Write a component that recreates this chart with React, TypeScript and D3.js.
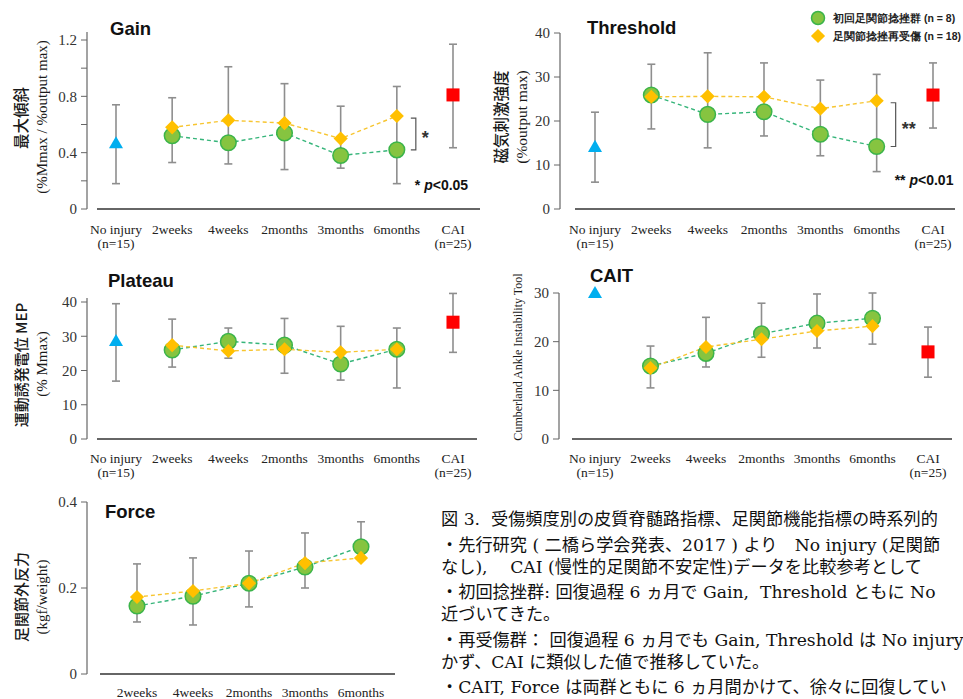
import React from "react";
import * as d3 from "d3";

// categories
const allCats = ["No injury", "2weeks", "4weeks", "2months", "3months", "6months", "CAI"];
const allSubs = ["(n=15)", "", "", "", "", "", "(n=25)"];
const timeCats = ["2weeks", "4weeks", "2months", "3months", "6months"];
const groupNames = ["初回足関節捻挫群 (n = 8)", "足関節捻挫再受傷 (n = 18)"];

// Gain  (mean, lo, hi for reference groups)
const gainFirst = [0.52, 0.47, 0.54, 0.38, 0.42];
const gainRecur = [0.58, 0.63, 0.61, 0.5, 0.66];
const gainHi = [0.79, 1.01, 0.89, 0.73, 0.87];
const gainLo = [0.33, 0.32, 0.28, 0.29, 0.18];
const gainNoInj = [0.46, 0.18, 0.74];
const gainCai = [0.81, 0.435, 1.17];

// Threshold
const thrFirst = [25.9, 21.5, 22.1, 17.0, 14.2];
const thrRecur = [25.5, 25.6, 25.5, 22.8, 24.6];
const thrHi = [32.9, 35.5, 33.2, 29.3, 30.6];
const thrLo = [18.2, 13.9, 16.6, 12.1, 8.5];
const thrNoInj = [13.9, 6.1, 22.0];
const thrCai = [25.9, 18.4, 33.2];

// Plateau
const platFirst = [26.0, 28.5, 27.4, 21.9, 26.2];
const platRecur = [27.4, 25.7, 26.2, 25.3, 26.2];
const platHi = [35.0, 32.4, 35.2, 32.9, 32.4];
const platLo = [21.0, 23.6, 19.2, 17.2, 14.9];
const platNoInj = [28.3, 16.9, 39.5];
const platCai = [34.1, 25.3, 42.5];

// CAIT
const caitFirst = [15.0, 17.6, 21.6, 23.8, 24.8];
const caitRecur = [14.6, 18.9, 20.5, 22.2, 23.2];
const caitHi = [19.1, 25.0, 27.9, 29.8, 30.0];
const caitLo = [10.5, 14.8, 16.8, 18.7, 19.5];
const caitNoInj = [29.8];
const caitCai = [17.9, 12.7, 23.0];

// Force
const forceFirst = [0.158, 0.181, 0.211, 0.249, 0.296];
const forceRecur = [0.179, 0.193, 0.211, 0.258, 0.27];
const forceHi = [0.256, 0.27, 0.286, 0.328, 0.354];
const forceLo = [0.121, 0.114, 0.156, 0.2, 0.27];

// caption, as far as it shows before the right edge
const captionLines = [
  "図 3.  受傷頻度別の皮質脊髄路指標、足関節機能指標の時系列的",
  "・先行研究 ( 二橋ら学会発表、2017 ) より　No injury (足関節",
  "なし),　 CAI (慢性的足関節不安定性)データを比較参考として",
  "・初回捻挫群: 回復過程 6 ヵ月で Gain,  Threshold ともに No",
  "近づいてきた。",
  "・再受傷群： 回復過程 6 ヵ月でも Gain, Threshold は No injury",
  "かず、CAI に類似した値で推移していた。",
  "・CAIT, Force は両群ともに 6 ヵ月間かけて、徐々に回復してい",
];

const GREEN_FILL = "#86c440";
const GREEN_STROKE = "#3bb44a";
const GREEN_LINE = "#36b57a";
const YELLOW = "#ffc000";
const YELLOW_LINE = "#f7c530";
const BLUE = "#00aeef";
const RED = "#ff0000";
const ERR = "#8e8e8e";
const SERIF = "'Liberation Serif', 'Times New Roman', serif";
const SANS = "'Liberation Sans', Arial, sans-serif";
const CJK = "'Noto Sans CJK JP', sans-serif";

const diamondPath = d3.symbol(d3.symbolSquare, 100)()!;
const trianglePath = d3.symbol(d3.symbolTriangle, 85)()!;
const squarePath = d3.symbol(d3.symbolSquare, 170)()!;

const ErrBar = ({ x, y1, y2 }) => (
  <g stroke={ERR} strokeWidth={1.6}>
    <line x1={x} x2={x} y1={y1} y2={y2} />
    <line x1={x - 4} x2={x + 4} y1={y1} y2={y1} />
    <line x1={x - 4} x2={x + 4} y1={y2} y2={y2} />
  </g>
);

const Panel = ({ p }) => {
  const y = d3.scaleLinear().domain(p.domain).range([p.yBottom, p.yTop]);
  const x = d3.scalePoint<string>().domain(p.cats).range([p.catX1, p.catX2]);
  const line = d3
    .line<number>()
    .x((_, i) => x(timeCats[i])!)
    .y((d) => y(d));
  const x6 = x("6months")!;

  return (
    <g>
      {/* y axis */}
      <line x1={p.axisX} x2={p.axisX} y1={p.yBottom} y2={p.yTop - p.axisOver} stroke="#666" strokeWidth={1.2} />
      {p.ticks.concat(p.minor || []).map((t) => (
        <line key={"t" + t} x1={p.axisX - 6} x2={p.axisX} y1={y(t)} y2={y(t)} stroke="#666" strokeWidth={1} />
      ))}
      {p.ticks.map((t) => (
        <text key={"l" + t} x={p.axisX - 10} y={y(t)} dy="0.35em" textAnchor="end" fontFamily={SERIF} fontSize={15} fill="#333">
          {p.fmt(t)}
        </text>
      ))}
      {/* x axis */}
      <line x1={p.xLine1} x2={p.xLine2} y1={y(0)} y2={y(0)} stroke="#333" strokeWidth={1.4} />
      {p.cats.map((c, i) => (
        <g key={c} fontFamily={SERIF} fontSize={13.5} fill="#222" textAnchor="middle">
          <text x={x(c)} y={p.labelY}>{c}</text>
          {p.subs && p.subs[i] && (
            <text x={x(c)} y={p.labelY + 14}>{p.subs[i]}</text>
          )}
        </g>
      ))}
      {/* title */}
      <text x={p.titleX} y={p.titleY} fontFamily={SANS} fontWeight="bold" fontSize={18.5} fill="#111">
        {p.title}
      </text>
      {/* y labels */}
      {p.yLabels.map((l, i) => (
        <text
          key={i}
          transform={`translate(${l.x},${l.y}) rotate(-90)`}
          textAnchor="middle"
          dy="0.35em"
          fontFamily={l.font}
          fontSize={l.size}
          fontWeight={l.font === CJK ? 500 : 400}
          fill="#1a1a1a"
        >
          {l.text}
        </text>
      ))}
      {/* error bars */}
      {timeCats.map((c, i) => (
        <ErrBar key={c} x={x(c)} y1={y(p.hi[i])} y2={y(p.lo[i])} />
      ))}
      {p.noInj && p.noInj.length > 1 && <ErrBar x={x("No injury")} y1={y(p.noInj[2])} y2={y(p.noInj[1])} />}
      {p.cai && <ErrBar x={x("CAI")} y1={y(p.cai[2])} y2={y(p.cai[1])} />}
      {/* lines */}
      <path d={line(p.first)!} fill="none" stroke={GREEN_LINE} strokeWidth={1.4} strokeDasharray="4,3" />
      <path d={line(p.recur)!} fill="none" stroke={YELLOW_LINE} strokeWidth={1.4} strokeDasharray="4,3" />
      {/* markers */}
      {p.first.map((v, i) => (
        <circle key={"g" + i} cx={x(timeCats[i])} cy={y(v)} r={7.8} fill={GREEN_FILL} stroke={GREEN_STROKE} strokeWidth={1.5} />
      ))}
      {p.recur.map((v, i) => (
        <path key={"y" + i} d={diamondPath} transform={`translate(${x(timeCats[i])},${y(v)}) rotate(45)`} fill={YELLOW} />
      ))}
      {p.noInj && (
        <path d={trianglePath} transform={`translate(${x("No injury")},${y(p.noInj[0])})`} fill={BLUE} />
      )}
      {p.cai && <path d={squarePath} transform={`translate(${x("CAI")},${y(p.cai[0])})`} fill={RED} />}
      {/* significance */}
      {p.sig && (
        <g>
          <path
            d={`M${x6 + 14},${y(p.recur[4]) + 2}H${x6 + 19}V${y(p.first[4])}H${x6 + 14}`}
            fill="none"
            stroke="#555"
            strokeWidth={1.2}
          />
          <text x={x6 + 25} y={(y(p.recur[4]) + y(p.first[4])) / 2 + 11} fontFamily={SANS} fontSize={18} fontWeight="bold" fill="#333">
            {p.sig.mark}
          </text>
          <text x={x6 + 18} y={p.sig.noteY} fontFamily={SANS} fontSize={14} fontWeight="bold" fill="#111">
            {p.sig.mark + " "}
            <tspan fontStyle="italic">p</tspan>
            {"<" + p.sig.p}
          </text>
        </g>
      )}
    </g>
  );
};

const fmt1 = (d: number) => (d === 0 ? "0" : d.toFixed(1));
const fmt0 = (d: number) => String(d);

export default function App() {
  const panels = [
    {
      title: "Gain", titleX: 110, titleY: 35,
      domain: [0, 1.2], yBottom: 209, yTop: 40, axisOver: 8, axisX: 87,
      ticks: [0, 0.4, 0.8, 1.2], minor: [0.2, 0.6, 1.0], fmt: fmt1,
      xLine1: 97, xLine2: 480, cats: allCats, subs: allSubs, catX1: 116, catX2: 453, labelY: 234,
      first: gainFirst, recur: gainRecur, hi: gainHi, lo: gainLo, noInj: gainNoInj, cai: gainCai,
      yLabels: [
        { text: "最大傾斜", x: 22, y: 118, size: 15.5, font: CJK },
        { text: "(%Mmax / %output max)", x: 42, y: 117, size: 15, font: SERIF },
      ],
      sig: { mark: "*", p: "0.05", noteY: 190 },
    },
    {
      title: "Threshold", titleX: 587, titleY: 34,
      domain: [0, 40], yBottom: 209, yTop: 33, axisOver: 0, axisX: 560,
      ticks: [0, 10, 20, 30, 40], fmt: fmt0,
      xLine1: 575, xLine2: 955, cats: allCats, subs: allSubs, catX1: 595, catX2: 933, labelY: 234,
      first: thrFirst, recur: thrRecur, hi: thrHi, lo: thrLo, noInj: thrNoInj, cai: thrCai,
      yLabels: [
        { text: "磁気刺激強度", x: 502, y: 117, size: 15.5, font: CJK },
        { text: "(%output max)", x: 522, y: 117, size: 15.5, font: SERIF },
      ],
      sig: { mark: "**", p: "0.01", noteY: 185 },
    },
    {
      title: "Plateau", titleX: 108, titleY: 287,
      domain: [0, 40], yBottom: 439, yTop: 302, axisOver: 4, axisX: 87,
      ticks: [0, 10, 20, 30, 40], fmt: fmt0,
      xLine1: 97, xLine2: 477, cats: allCats, subs: allSubs, catX1: 116, catX2: 453, labelY: 463,
      first: platFirst, recur: platRecur, hi: platHi, lo: platLo, noInj: platNoInj, cai: platCai,
      yLabels: [
        { text: "運動誘発電位 MEP", x: 22, y: 365, size: 15, font: CJK },
        { text: "(% Mmax)", x: 42, y: 364, size: 15, font: SERIF },
      ],
    },
    {
      title: "CAIT", titleX: 590, titleY: 282,
      domain: [0, 30], yBottom: 439, yTop: 293, axisOver: 0, axisX: 559,
      ticks: [0, 10, 20, 30], fmt: fmt0,
      xLine1: 572, xLine2: 952, cats: allCats, subs: allSubs, catX1: 595, catX2: 928, labelY: 463,
      first: caitFirst, recur: caitRecur, hi: caitHi, lo: caitLo, noInj: caitNoInj, cai: caitCai,
      yLabels: [{ text: "Cumberland Ankle Instability Tool", x: 518, y: 357, size: 12, font: SERIF }],
    },
    {
      title: "Force", titleX: 105, titleY: 518,
      domain: [0, 0.4], yBottom: 674, yTop: 502, axisOver: 0, axisX: 87,
      ticks: [0, 0.2, 0.4], fmt: fmt1,
      xLine1: 100, xLine2: 395, cats: timeCats, catX1: 137, catX2: 361, labelY: 697,
      first: forceFirst, recur: forceRecur, hi: forceHi, lo: forceLo,
      yLabels: [
        { text: "足関節外反力", x: 22, y: 597, size: 15, font: CJK },
        { text: "(kgf/weight)", x: 42, y: 597, size: 15, font: SERIF },
      ],
    },
  ];

  let cy = 525;
  const captionY = captionLines.map((t, i) => {
    if (i > 0) cy += t.startsWith("・") ? 25.5 : 22;
    return cy;
  });

  return (
    <>
      <style>{`body{margin:0;overflow:hidden}`}</style>
      <svg width={963} height={699} style={{ display: "block", background: "#fff" }}>
        {panels.map((p) => (
          <Panel key={p.title} p={p} />
        ))}
        {/* legend */}
        <g fontFamily={SANS} fontSize={10.5} fontWeight="bold" fill="#222">
          <circle cx={818} cy={18} r={6.5} fill={GREEN_FILL} stroke={GREEN_STROKE} strokeWidth={1.5} />
          <text x={833} y={22}>{groupNames[0]}</text>
          <path d={diamondPath} transform="translate(818,36) rotate(45)" fill={YELLOW} />
          <text x={833} y={40}>{groupNames[1]}</text>
        </g>
        {/* caption */}
        <g fontFamily={`'DejaVu Serif', ${CJK}`} fontSize={17.2} fill="#111">
          {captionLines.map((t, i) => (
            <text key={i} x={441} y={captionY[i]} style={{ whiteSpace: "pre" }}>
              {t}
            </text>
          ))}
        </g>
      </svg>
    </>
  );
}
